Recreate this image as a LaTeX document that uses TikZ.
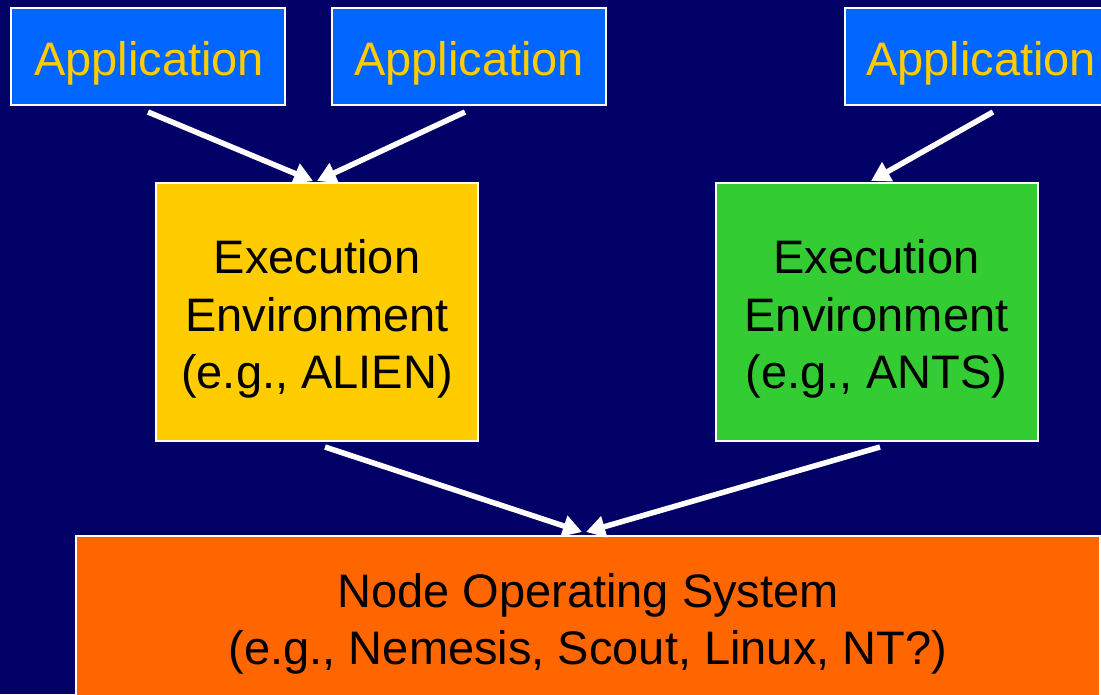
\documentclass[tikz,border=0pt]{standalone}
\usepackage{fontspec}
\setmainfont{Liberation Sans}
\usetikzlibrary{arrows.meta}
\definecolor{bgnavy}{HTML}{000066}
\definecolor{appblue}{HTML}{0066FF}
\definecolor{appyellow}{HTML}{FFCC00}
\definecolor{eegreen}{HTML}{33CC33}
\definecolor{osorange}{HTML}{FF6600}
\tikzset{
  box/.style={draw=white, line width=2pt, inner sep=0pt},
  txt/.style={inner sep=0pt, align=center, font=\fontsize{47}{57.5}\selectfont},
  appbox/.style={box, fill=appblue, minimum width=274pt, minimum height=97pt},
  apptxt/.style={txt, text=appyellow},
  eebox/.style={box, minimum width=322pt, minimum height=258pt},
  arr/.style={draw=white, line width=5.5pt, -{Triangle[length=19pt,width=21pt]}}
}
\begin{document}
\begin{tikzpicture}[x=1pt,y=-1pt]
\useasboundingbox (0,0) rectangle (1101,694);
\clip (0,0) rectangle (1101,694);
\fill[bgnavy] (0,0) rectangle (1101,694);
\node[appbox] (app1) at (148,56.5) {};
\node[appbox] (app2) at (469,56.5) {};
\node[appbox] (app3) at (982,56.5) {};
\node[apptxt] (app1t) at (149,63) {Application};
\node[apptxt] (app2t) at (469,63) {Application};
\node[apptxt] (app3t) at (981,63) {Application};
\node[eebox, fill=appyellow] (ee1) at (317,312) {};
\node[eebox, fill=eegreen] (ee2) at (876.5,312) {};
\node[txt] (ee1t) at (317,319) {Execution\\Environment\\(e.g., ALIEN)};
\node[txt] (ee2t) at (876.5,319) {Execution\\Environment\\(e.g., ANTS)};
\node[box, fill=osorange, minimum width=1024pt, minimum height=170pt] (os) at (588,621) {};
\node[txt] (ost) at (588,624) {Node Operating System\\(e.g., Nemesis, Scout, Linux, NT?)};
\coordinate (a1s) at (148,112);
\coordinate (a2s) at (465,112);
\coordinate (a3s) at (993,112);
\coordinate (e1t) at (313,181);
\coordinate (e1tb) at (317,181);
\coordinate (e2t) at (871,181);
\coordinate (e1s) at (325,447);
\coordinate (e2s) at (880,447);
\coordinate (osa) at (582,532);
\coordinate (osb) at (586,532);
\draw[arr] (a1s) -- (e1t);
\draw[arr] (a2s) -- (e1tb);
\draw[arr] (a3s) -- (e2t);
\draw[arr] (e1s) -- (osa);
\draw[arr] (e2s) -- (osb);
\end{tikzpicture}
\end{document}
